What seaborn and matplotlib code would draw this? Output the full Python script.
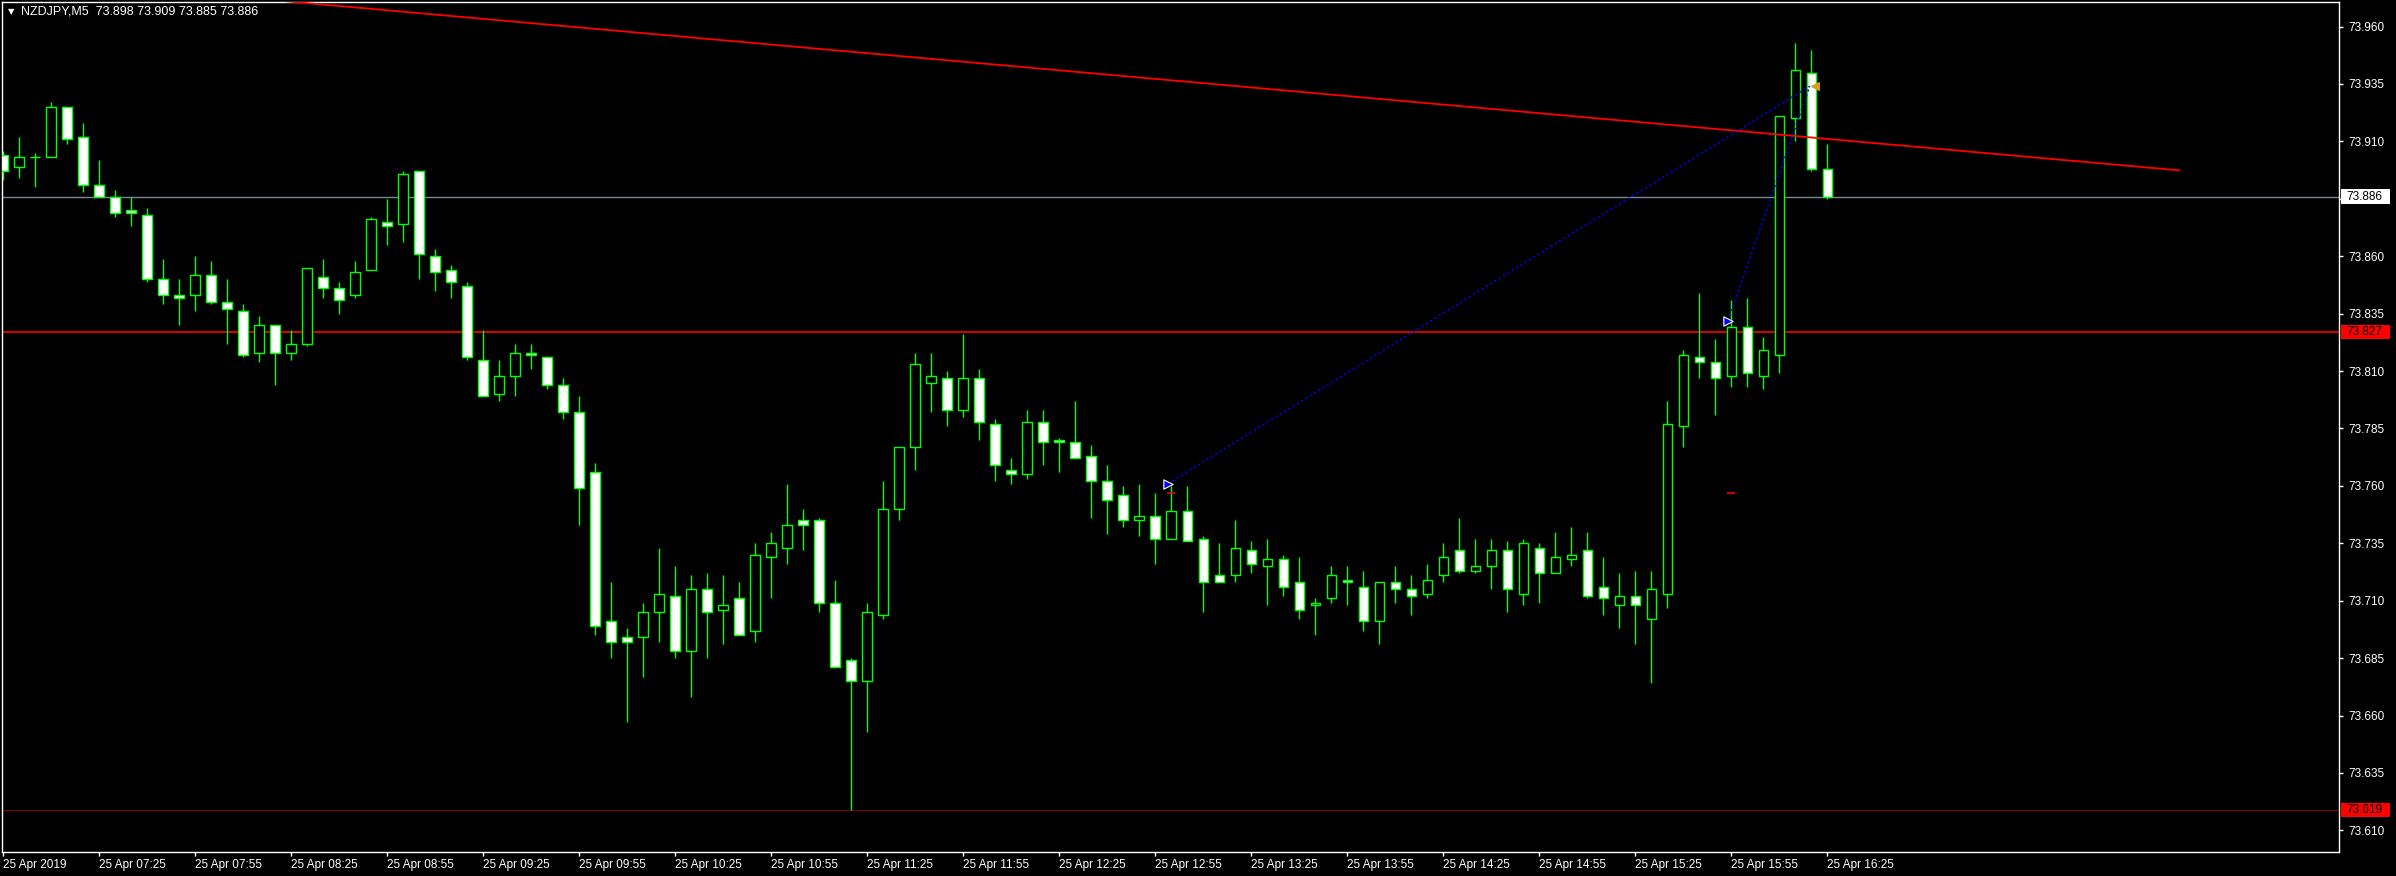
import matplotlib
matplotlib.use("Agg")
import matplotlib.pyplot as plt
import matplotlib.transforms as mtransforms
from matplotlib.patches import Rectangle
import numpy as np
import seaborn as sns

# NZDJPY M5, 25 Apr 2019, bars from 06:55 to 16:25
symbol = "NZDJPY,M5"
opens = [73.904, 73.899, 73.903, 73.903, 73.925, 73.912, 73.891, 73.886, 73.880, 73.878,
         73.850, 73.843, 73.843, 73.852, 73.840, 73.836, 73.818, 73.830, 73.818, 73.822,
         73.851, 73.846, 73.843, 73.854, 73.875, 73.874, 73.897, 73.860, 73.854, 73.847,
         73.815, 73.800, 73.808, 73.818, 73.816, 73.804, 73.792, 73.766, 73.701, 73.694,
         73.694, 73.705, 73.712, 73.688, 73.715, 73.706, 73.711, 73.697, 73.729, 73.733,
         73.745, 73.745, 73.709, 73.684, 73.675, 73.704, 73.750, 73.777, 73.805, 73.807,
         73.793, 73.807, 73.787, 73.767, 73.765, 73.788, 73.780, 73.779, 73.773, 73.762,
         73.756, 73.745, 73.747, 73.737, 73.749, 73.737, 73.721, 73.721, 73.732, 73.725,
         73.728, 73.718, 73.708, 73.711, 73.719, 73.716, 73.701, 73.718, 73.715, 73.713,
         73.721, 73.732, 73.723, 73.725, 73.732, 73.713, 73.733, 73.722, 73.728, 73.732,
         73.716, 73.708, 73.712, 73.702, 73.713, 73.786, 73.816, 73.814, 73.808, 73.829,
         73.808, 73.817, 73.920, 73.940, 73.898]
highs = [73.906, 73.912, 73.905, 73.927, 73.925, 73.918, 73.902, 73.889, 73.886, 73.881,
         73.859, 73.850, 73.860, 73.858, 73.850, 73.839, 73.834, 73.830, 73.828, 73.855,
         73.859, 73.849, 73.858, 73.877, 73.885, 73.897, 73.897, 73.863, 73.856, 73.849,
         73.828, 73.815, 73.822, 73.822, 73.816, 73.807, 73.799, 73.770, 73.718, 73.698,
         73.709, 73.733, 73.725, 73.721, 73.722, 73.721, 73.718, 73.735, 73.740, 73.761,
         73.750, 73.746, 73.719, 73.685, 73.709, 73.762, 73.777, 73.818, 73.818, 73.810,
         73.826, 73.811, 73.789, 73.772, 73.793, 73.793, 73.781, 73.797, 73.778, 73.769,
         73.760, 73.761, 73.757, 73.760, 73.760, 73.738, 73.735, 73.745, 73.736, 73.737,
         73.730, 73.729, 73.711, 73.725, 73.725, 73.723, 73.718, 73.725, 73.721, 73.726,
         73.735, 73.746, 73.737, 73.737, 73.736, 73.737, 73.735, 73.740, 73.742, 73.740,
         73.729, 73.722, 73.723, 73.723, 73.797, 73.819, 73.844, 73.824, 73.841, 73.842,
         73.825, 73.921, 73.953, 73.950, 73.909]
lows = [73.893, 73.894, 73.890, 73.903, 73.909, 73.888, 73.886, 73.877, 73.873, 73.849,
        73.839, 73.830, 73.836, 73.839, 73.822, 73.816, 73.814, 73.804, 73.815, 73.821,
        73.842, 73.835, 73.842, 73.854, 73.865, 73.866, 73.850, 73.845, 73.842, 73.815,
        73.799, 73.797, 73.799, 73.811, 73.802, 73.789, 73.743, 73.695, 73.685, 73.657,
        73.677, 73.692, 73.685, 73.668, 73.685, 73.691, 73.695, 73.692, 73.711, 73.726,
        73.732, 73.705, 73.681, 73.619, 73.653, 73.702, 73.745, 73.767, 73.792, 73.786,
        73.790, 73.780, 73.762, 73.761, 73.763, 73.769, 73.766, 73.772, 73.746, 73.739,
        73.742, 73.738, 73.726, 73.737, 73.736, 73.705, 73.718, 73.718, 73.722, 73.708,
        73.712, 73.702, 73.695, 73.709, 73.708, 73.697, 73.691, 73.709, 73.704, 73.711,
        73.718, 73.722, 73.722, 73.715, 73.705, 73.708, 73.709, 73.722, 73.725, 73.711,
        73.704, 73.698, 73.691, 73.674, 73.707, 73.777, 73.807, 73.791, 73.803, 73.803,
        73.802, 73.809, 73.910, 73.897, 73.885]
closes = [73.897, 73.903, 73.903, 73.925, 73.911, 73.891, 73.886, 73.879, 73.879, 73.850,
          73.843, 73.842, 73.852, 73.840, 73.837, 73.817, 73.830, 73.818, 73.822, 73.855,
          73.846, 73.841, 73.853, 73.876, 73.873, 73.896, 73.861, 73.853, 73.849, 73.816,
          73.799, 73.808, 73.818, 73.817, 73.804, 73.792, 73.759, 73.699, 73.692, 73.692,
          73.705, 73.713, 73.688, 73.715, 73.705, 73.708, 73.695, 73.730, 73.735, 73.743,
          73.743, 73.709, 73.681, 73.675, 73.705, 73.750, 73.777, 73.813, 73.808, 73.793,
          73.807, 73.788, 73.769, 73.765, 73.788, 73.779, 73.779, 73.772, 73.762, 73.754,
          73.745, 73.747, 73.737, 73.749, 73.736, 73.718, 73.718, 73.733, 73.726, 73.728,
          73.716, 73.706, 73.709, 73.721, 73.718, 73.701, 73.718, 73.715, 73.712, 73.719,
          73.729, 73.723, 73.725, 73.732, 73.715, 73.735, 73.722, 73.729, 73.730, 73.712,
          73.711, 73.712, 73.708, 73.715, 73.787, 73.817, 73.814, 73.807, 73.829, 73.809,
          73.819, 73.921, 73.941, 73.898, 73.886]

time_labels = ["25 Apr 2019", "25 Apr 07:25", "25 Apr 07:55", "25 Apr 08:25", "25 Apr 08:55",
               "25 Apr 09:25", "25 Apr 09:55", "25 Apr 10:25", "25 Apr 10:55", "25 Apr 11:25",
               "25 Apr 11:55", "25 Apr 12:25", "25 Apr 12:55", "25 Apr 13:25", "25 Apr 13:55",
               "25 Apr 14:25", "25 Apr 14:55", "25 Apr 15:25", "25 Apr 15:55", "25 Apr 16:25"]
label_bars = list(range(0, 115, 6))
price_ticks = [73.610, 73.635, 73.660, 73.685, 73.710, 73.735, 73.760, 73.785,
               73.810, 73.835, 73.860, 73.885, 73.910, 73.935, 73.960]

bid_level = 73.886
red_level = 73.827
low_level = 73.619

# objects drawn on the chart
trend_bars = [10, 136]
trend_prices = [73.9758, 73.8974]
entry_bars = [72.8, 107.8]
entry_prices = [73.761, 73.832]
exit_bar = 112.9
exit_price = 73.934
stop_bars = [73, 108]
stop_prices = [73.757, 73.757]

sns.set_theme(style="ticks", rc={
    "axes.facecolor": "black", "figure.facecolor": "black",
    "axes.edgecolor": "white", "axes.grid": False,
})
plt.rcParams["font.family"] = ["Liberation Sans", "DejaVu Sans"]

W, H = 2396, 876
fig = plt.figure(figsize=(W / 100, H / 100), dpi=100)
ax = fig.add_axes([2 / W, 24 / H, 2337 / W, 850 / H])
ax.set_facecolor("black")

x = np.arange(len(opens))
o = np.array(opens)
c = np.array(closes)
bear = c < o
green = "#00ff00"

ax.vlines(x, lows, highs, color=green, lw=1.0, zorder=2)
ax.bar(x, np.abs(c - o), bottom=np.minimum(o, c), width=0.6,
       color=np.where(bear, "white", "black"), edgecolor=green, linewidth=1.0, zorder=3)

# horizontal levels
ax.axhline(bid_level, color="#778899", lw=1.0, zorder=1)
ax.axhline(red_level, color="#ff0000", lw=1.2, zorder=1)
ax.axhline(low_level, color="#a00000", lw=0.6, zorder=1)

# trendline and trade marks
ax.plot(trend_bars, trend_prices, color="#ff0000", lw=1.3, zorder=4)
for xb, pb in zip(entry_bars, entry_prices):
    ax.plot([xb, exit_bar], [pb, exit_price], color="#0000ff", lw=1.3, ls=(0, (1, 1.8)), zorder=5)
ax.scatter(entry_bars, entry_prices, marker=">", s=45, color="#0000ff", edgecolor="white",
           linewidth=0.8, zorder=6)
ax.scatter([exit_bar + 0.35], [exit_price], marker="<", s=30, color="#d4a017", zorder=6)
ax.hlines(stop_prices, np.array(stop_bars) - 0.25, np.array(stop_bars) + 0.25, color="#ff0000", lw=1.2, zorder=6)

ax.set_xlim(-0.08, 145.98)
ax.set_ylim(73.6006, 73.9707)

ax.yaxis.tick_right()
ax.set_yticks(price_ticks)
ax.set_yticklabels([f"{p:.3f}" for p in price_ticks])
ax.tick_params(axis="y", colors="white", length=3, width=1, labelsize=8.5, pad=4)
ax.set_xticks(label_bars)
ax.set_xticklabels(time_labels, ha="left")
ax.tick_params(axis="x", colors="white", length=3, width=1, labelsize=8.5, pad=2)
for side in ["left", "right", "top", "bottom"]:
    ax.spines[side].set_color("white")
    ax.spines[side].set_linewidth(1.0)

# price boxes on the right scale
trans = mtransforms.blended_transform_factory(ax.transAxes, ax.transData)
for level, fc in [(bid_level, "white"), (red_level, "#ff0000"), (low_level, "#ff0000")]:
    ax.add_patch(Rectangle((1.0009, level - 0.0031), 49 / 2337, 0.0062, transform=trans,
                           facecolor=fc, edgecolor="none", clip_on=False, zorder=10))
    ax.text(1.003, level, f"{level:.3f}", transform=trans, ha="left", va="center",
            fontsize=8.5, color="black", clip_on=False, zorder=11)

# header
fig.text(8 / W, 1 - 12 / H, "\u25bc", color="white", fontsize=6, va="center", ha="left",
         family=["DejaVu Sans"])
fig.text(21 / W, 1 - 12 / H,
         f"{symbol}  {opens[-1]:.3f} {highs[-1]:.3f} {lows[-1]:.3f} {closes[-1]:.3f}",
         color="white", fontsize=9, va="center", ha="left")

fig.savefig("out.png", dpi=100, facecolor="black")
plt.close(fig)
